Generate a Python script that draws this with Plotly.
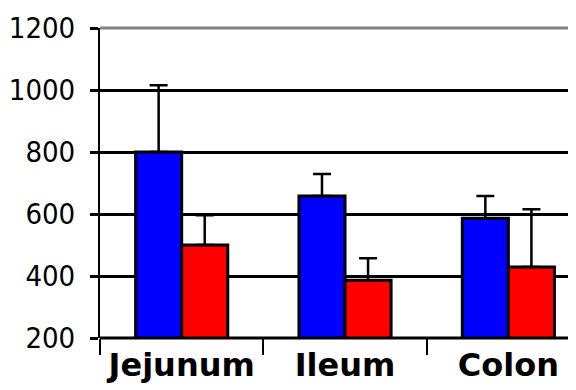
import plotly.graph_objects as go

categories = ["Jejunum", "Ileum", "Colon"]
blue_values = [800, 658, 586]
blue_errors = [215, 71, 72]
red_values = [500, 386, 429]
red_errors = [96, 71, 186]
y_ticks = [200, 400, 600, 800, 1000, 1200]

fig = go.Figure()
fig.add_trace(go.Bar(
    x=categories, y=blue_values,
    marker=dict(color="#0000ff", line=dict(color="black", width=3)),
    error_y=dict(type="data", array=blue_errors, arrayminus=[0, 0, 0],
                 symmetric=False, color="black", thickness=2.5, width=9),
))
fig.add_trace(go.Bar(
    x=categories, y=red_values,
    marker=dict(color="#ff0000", line=dict(color="black", width=3)),
    error_y=dict(type="data", array=red_errors, arrayminus=[0, 0, 0],
                 symmetric=False, color="black", thickness=2.5, width=9),
))

fig.update_layout(
    width=568, height=382,
    margin=dict(l=92, r=0, t=20, b=52, autoexpand=False),
    paper_bgcolor="white", plot_bgcolor="white",
    barmode="group", bargap=0.436, bargroupgap=0,
    showlegend=False,
    xaxis=dict(
        type="category", range=[-0.5, 2.414], automargin=False,
        tickson="boundaries", ticks="outside", ticklen=16, tickwidth=2,
        tickcolor="black", showgrid=False, showline=False,
        ticklabelstandoff=5,
        tickfont=dict(family="DejaVu Sans", size=32, color="black", weight="bold"),
    ),
    yaxis=dict(
        range=[200, 1200], tickvals=y_ticks, automargin=False,
        ticks="outside", ticklen=8, tickwidth=3, tickcolor="black",
        showgrid=True, gridcolor="black", gridwidth=3,
        showline=True, linecolor="black", linewidth=2,
        zeroline=False, ticklabelstandoff=9,
        tickfont=dict(family="Liberation Sans Narrow, Arial Narrow, DejaVu Sans Condensed, sans-serif",
                      size=29, color="black"),
    ),
    shapes=[
        dict(type="line", xref="paper", yref="paper", x0=0, x1=1, y0=1, y1=1,
             line=dict(color="#808080", width=3), layer="above"),
        dict(type="line", xref="paper", yref="paper", x0=0, x1=1, y0=0, y1=0,
             line=dict(color="black", width=3), layer="above"),
    ],
)

fig.write_html("out.html")
